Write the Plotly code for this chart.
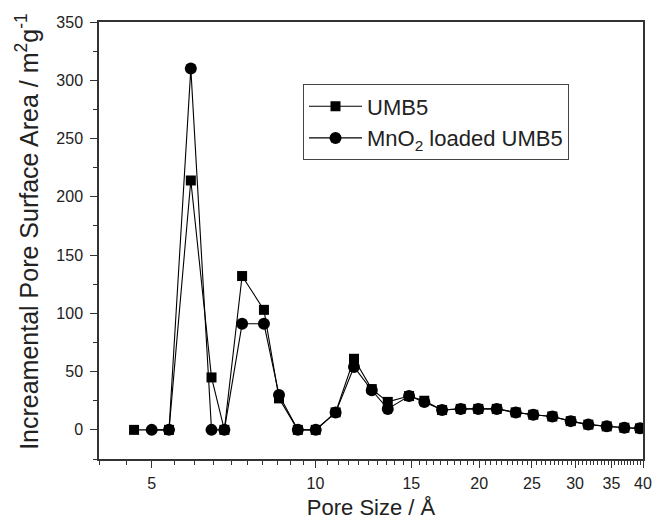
import plotly.graph_objects as go

# Pore size (Å)
umb5_x = [4.64, 5.38, 5.90, 6.44, 6.80, 7.33, 8.04, 8.57, 9.28, 10.01, 10.89, 11.77,
          12.69, 13.58, 14.86, 15.85, 17.09, 18.49, 19.92, 21.54, 23.34, 25.14,
          27.25, 29.46, 31.74, 34.31, 36.96, 39.5]
umb5_y = [0, 0, 214, 45, 0, 132, 103, 27, 0, 0, 15, 61,
          35, 24, 29, 25, 17, 18, 18, 18, 15, 13,
          11.5, 7.5, 4.5, 3, 1.8, 1.3]

mno2_x = [5.00, 5.38, 5.90, 6.44, 6.80, 7.33, 8.04, 8.57, 9.28, 10.01, 10.89, 11.77,
          12.69, 13.58, 14.86, 15.85, 17.09, 18.49, 19.92, 21.54, 23.34, 25.14,
          27.25, 29.46, 31.74, 34.31, 36.96, 39.5]
mno2_y = [0, 0, 310, 0, 0, 91, 91, 30, 0, 0, 15, 54,
          34, 18, 29, 24, 17, 18, 18, 18, 15, 13,
          11.5, 7.5, 4.5, 3, 1.8, 1.3]

x_major = [5, 10, 15, 20, 25, 30, 35, 40]
x_major_labels = ["5", "10", "15", "20", "25", "30", "35", "40"]
x_minor = [v / 2 for v in range(8, 81) if v % 10 != 0]
y_major = [0, 50, 100, 150, 200, 250, 300, 350]
y_minor = [-25, 25, 75, 125, 175, 225, 275, 325]

x_title = "Pore Size / Å"
y_title = "Increamental Pore Surface Area / m<sup>2</sup>g<sup>-1</sup>"

FONT = "Arial, Liberation Sans, sans-serif"
AX = "#333333"

fig = go.Figure()
fig.add_trace(go.Scatter(
    x=umb5_x, y=umb5_y, name="UMB5", mode="lines+markers",
    line=dict(color="black", width=1.1),
    marker=dict(symbol="square", size=10, color="black"),
))
fig.add_trace(go.Scatter(
    x=mno2_x, y=mno2_y, name="MnO<sub>2</sub> loaded UMB5", mode="lines+markers",
    line=dict(color="black", width=1.1),
    marker=dict(symbol="circle", size=12, color="black"),
))

xrange = [0.60206, 1.60206]
yrange = [-25, 350]

common_x = dict(type="log", range=xrange, tickmode="array", tickvals=x_major,
                ticklen=7, tickwidth=1.2, tickcolor=AX, showgrid=False, zeroline=False,
                automargin=False,
                minor=dict(tickvals=x_minor, ticklen=4, tickwidth=1, tickcolor=AX, showgrid=False))
common_y = dict(range=yrange, tickmode="array", tickvals=y_major,
                ticklen=7, tickwidth=1.2, tickcolor=AX, showgrid=False, zeroline=False,
                automargin=False,
                minor=dict(tickvals=y_minor, ticklen=4, tickwidth=1, tickcolor=AX, showgrid=False))

fig.update_layout(
    width=652, height=523,
    margin=dict(l=99, r=9, t=22, b=64),
    paper_bgcolor="white", plot_bgcolor="white",
    font=dict(family=FONT, color="#222222", size=16),
    showlegend=True,
    legend=dict(x=0.375, y=0.857, xanchor="left", yanchor="top",
                bordercolor="#444444", borderwidth=1, bgcolor="white",
                font=dict(size=22, family=FONT, color="#222222"),
                itemwidth=53, tracegroupgap=2),
    xaxis=dict(**common_x, ticks="outside", ticktext=x_major_labels,
               showline=True, linecolor=AX, linewidth=1.5, mirror=True,
               tickfont=dict(size=16, family=FONT), ticklabelstandoff=2,
               title=dict(text=x_title, font=dict(size=22, family=FONT), standoff=9)),
    yaxis=dict(**common_y, ticks="outside",
               showline=True, linecolor=AX, linewidth=1.5, mirror=True,
               tickfont=dict(size=16, family=FONT), ticklabelstandoff=4),
    xaxis2=dict(**common_x, ticks="inside", overlaying="x", side="top",
                showticklabels=False, showline=False, anchor="y"),
    yaxis2=dict(**common_y, ticks="inside", overlaying="y", side="right",
                showticklabels=False, showline=False, anchor="x"),
)

# y-axis title placed as a rotated paper-anchored text so it sits where the reference has it
fig.add_annotation(
    text=y_title, textangle=-90, showarrow=False,
    xref="paper", yref="paper", x=-0.1324, y=0.522,
    xanchor="center", yanchor="middle",
    font=dict(size=25, family=FONT, color="#222222"),
)

# remove the default 8px page margin so the figure fills the 652x523 window exactly
fig.write_html("out.html", config={"displayModeBar": False},
               post_script="document.body.style.margin='0px';")
